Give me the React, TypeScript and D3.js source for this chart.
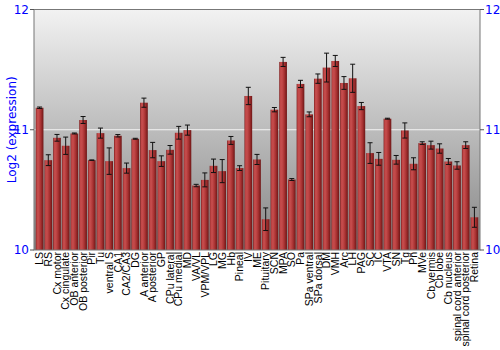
import React from "react";
import * as d3 from "d3";

const categories = ["LS","RS","Cx motor","Cx cingulate","OB anterior","OB posterior","Pir","Tu","ventral S","CA1","CA2/CA3","DG","A anterior","A posterior","GP","CPu lateral","CPu medial","MD","VA/VL","VPM/VPL","LG","MG","Hb","Pineal","IV","ME","Pituitary","SCN","MPA","SO","Pa","SPa ventral","SPa dorsal","DM","VMH","Arc","LH","PAG","SC","IC","VTA","SN","Tg","Pn","MVe","Cb vermis","Cb lobe","Cb nucleus","spinal cord anterior","spinal cord posterior","Retina"];
const values = [11.183,10.747,10.933,10.867,10.969,11.081,10.747,10.972,10.739,10.95,10.681,10.925,11.225,10.831,10.739,10.833,10.975,10.997,10.536,10.583,10.70,10.656,10.911,10.681,11.281,10.753,10.256,11.167,11.564,10.586,11.381,11.128,11.425,11.517,11.572,11.389,11.428,11.197,10.806,10.758,11.092,10.75,10.994,10.717,10.889,10.872,10.844,10.736,10.703,10.872,10.272];
const errors = [0.006,0.045,0.028,0.072,0.004,0.029,0.002,0.042,0.11,0.01,0.042,0.004,0.038,0.064,0.044,0.036,0.053,0.042,0.01,0.058,0.056,0.096,0.033,0.02,0.072,0.042,0.094,0.018,0.038,0.008,0.03,0.02,0.039,0.12,0.046,0.053,0.117,0.03,0.086,0.053,0.004,0.036,0.063,0.05,0.011,0.033,0.039,0.025,0.031,0.028,0.083];
const yTicks = [10, 11, 12];

export default function App() {
  const W = 500, H = 350;
  const left = 34, right = 480, top = 9.5, bottom = 250;
  const x = d3.scaleBand<string>().domain(categories).range([left, right]).paddingInner(0.114).paddingOuter(0.2);
  const y = d3.scaleLinear().domain([10, 12]).range([bottom, top]);
  const bw = x.bandwidth();
  return (
    <svg width={W} height={H} style={{ position: "absolute", left: 0, top: 0 }}>
      <defs>
        <linearGradient id="bg" x1="0" y1="0" x2="0" y2="1">
          <stop offset="0%" stopColor="#f2f2f2" />
          <stop offset="100%" stopColor="#868686" />
        </linearGradient>
        <linearGradient id="bar" x1="0" y1="0" x2="1" y2="0">
          <stop offset="0%" stopColor="#7a1b1b" />
          <stop offset="15%" stopColor="#c24848" />
          <stop offset="35%" stopColor="#c44b4b" />
          <stop offset="65%" stopColor="#a93232" />
          <stop offset="100%" stopColor="#6d1616" />
        </linearGradient>
      </defs>
      <rect x={left} y={top} width={right - left} height={bottom - top} fill="url(#bg)" />
      <line x1={left} x2={right} y1={y(11)} y2={y(11)} stroke="#f4f4f4" strokeWidth={1.2} />
      {categories.map((c, i) => {
        const x0 = x(c)!;
        const v = values[i];
        return (
          <rect key={c} x={x0} y={y(v)} width={bw} height={bottom - y(v)} fill="url(#bar)" />
        );
      })}
      {categories.map((c, i) => {
        const cx = x(c)! + bw / 2;
        const v = values[i], e = errors[i];
        const y1 = y(v + e), y2 = y(v - e);
        return (
          <g key={"e" + c} stroke="#111" strokeWidth={1}>
            <line x1={cx} x2={cx} y1={y1} y2={y2} />
            <line x1={cx - 2.5} x2={cx + 2.5} y1={y1} y2={y1} />
            <line x1={cx - 2.5} x2={cx + 2.5} y1={y2} y2={y2} />
          </g>
        );
      })}
      <rect x={left} y={top} width={right - left} height={bottom - top} fill="none" stroke="#777" strokeWidth={1} />
      {yTicks.map(t => (
        <g key={"yt" + t}>
          <line x1={left - 4} x2={left} y1={y(t)} y2={y(t)} stroke="#555" />
          <text x={left - 5} y={y(t)} dy="0.35em" textAnchor="end" fill="#0000ff" fontFamily="DejaVu Sans" fontSize={12}>{t}</text>
          <line x1={right} x2={right + 4} y1={y(t)} y2={y(t)} stroke="#555" />
          <text x={right + 5} y={y(t)} dy="0.35em" textAnchor="start" fill="#0000ff" fontFamily="DejaVu Sans" fontSize={12}>{t}</text>
        </g>
      ))}
      <text transform={`translate(12,${(top + bottom) / 2}) rotate(-90)`} textAnchor="middle" dy="0.35em" fill="#0000ff" fontFamily="DejaVu Sans" fontSize={12}>Log2 (expression)</text>
      {categories.map(c => (
        <text key={"xl" + c} transform={`translate(${x(c)! + bw / 2},${bottom + 2}) rotate(-90)`} textAnchor="end" dy="0.35em" fill="#000" fontFamily="Liberation Sans" fontSize={10.5}>{c}</text>
      ))}
    </svg>
  );
}
